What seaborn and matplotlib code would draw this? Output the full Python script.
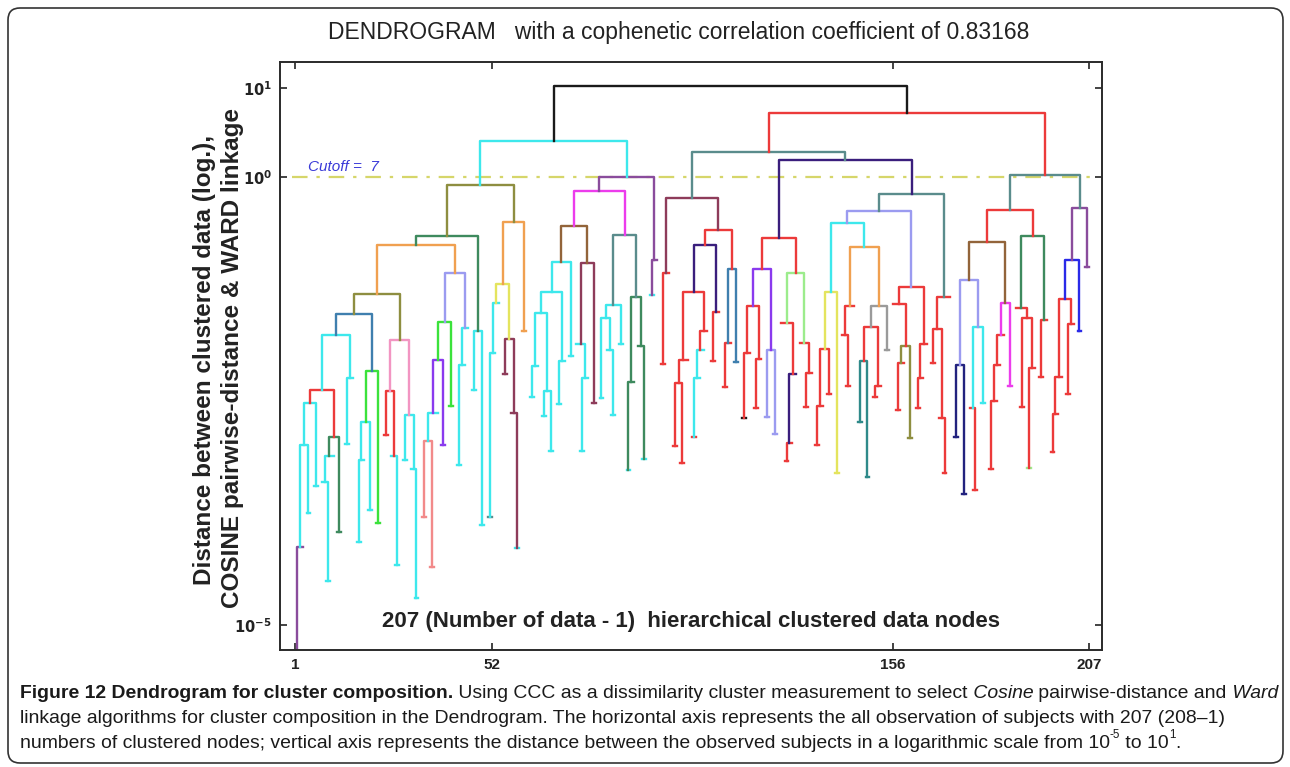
import re
import numpy as np
import pandas as pd
import matplotlib
matplotlib.use("Agg")
import matplotlib.pyplot as plt
import seaborn as sns
from matplotlib.patches import FancyBboxPatch
from matplotlib.transforms import IdentityTransform
from matplotlib.ticker import NullLocator
from matplotlib import font_manager

# ---------------------------------------------------------------------------
# Cluster tree: "(left,right)K:h" is a link of colour key K at log10 height h,
# "x" is a single observation (height 0, not drawn on the log axis).
# ---------------------------------------------------------------------------
c3 = "(((x,x)v:-5.80,x)v:-4.13,(x,x)c:-3.75)c:-2.99"
c2 = f"({c3},(x,x)c:-3.44)c:-2.52"
dg2 = "(((x,(x,x)c:-4.51)c:-3.40,x)c:-3.11,(x,x)G:-3.96)G:-2.90"
r1 = f"({c2},{dg2})r:-2.37"
c1 = f"({r1},((x,x)c:-2.98,x)c:-2.24)c:-1.76"
bg1 = "((((x,x)c:-4.07,x)c:-3.15,(x,x)c:-3.71)c:-2.73,(x,x)g:-3.86)g:-2.16"
sb1 = f"({c1},{bg1})b:-1.53"
pk1 = ("(((x,x)r:-2.88,(x,(x,x)c:-4.33)c:-3.11)r:-2.39,"
       "((x,x)c:-3.16,(x,(x,x)c:-4.70)c:-3.26)c:-2.65)p:-1.82")
ol1 = f"({sb1},{pk1})O:-1.30"
sal = "((x,x)s:-3.79,(x,x)s:-4.35)s:-2.94"
pu1 = f"(({sal},x)c:-2.63,(x,x)P:-2.99)P:-2.04"
bg2 = f"({pu1},(x,x)g:-2.55)g:-1.62"
lv1 = f"({bg2},(((x,x)c:-3.21,x)c:-2.09,x)c:-1.68)l:-1.07"
o1 = f"({ol1},{lv1})o:-0.75"
dg1 = f"({o1},((x,x)c:-2.37,(x,x)c:-3.88)c:-1.72)G:-0.66"
yl1 = ("((((x,x)t:-3.79,x)c:-1.96,x)c:-1.40,"
       "((x,x)h:-2.20,(x,(x,x)c:-4.14)h:-2.63)h:-1.80)y:-1.19")
o2 = f"({yl1},(x,x)o:-1.71)o:-0.50"
ol0 = f"({dg1},{o2})O:-0.09"

c6 = "(((x,x)c:-2.45,x)c:-2.11,((x,x)c:-2.66,(x,x)c:-3.06)c:-2.39)c:-1.51"
c4 = f"(({c6},((x,x)c:-2.53,x)c:-2.05)c:-1.28,(x,x)c:-2.00)c:-0.94"
ma = "((x,((x,x)c:-3.05,x)c:-2.24)c:-1.86,(x,x)h:-2.52)h:-0.96"
br = f"({c4},{ma})n:-0.54"
c7 = "(((x,x)c:-2.46,(x,(x,x)c:-2.65)c:-1.93)c:-1.57,(x,x)c:-1.86)c:-1.43"
dg3 = "(((x,x)c:-3.27,x)G:-2.29,(x,(x,x)c:-3.14)G:-1.88)G:-1.34"
tl = f"({c7},{dg3})t:-0.64"
pt = f"(({br},{tl})m:-0.15,((x,x)c:-1.31,x)v:-0.92)v:0.00"
cy0 = f"({ol0},{pt})c:0.41"

ml = "((x,x)r:-2.08,x)r:-1.07"
n61 = "(((x,x)r:-3.00,(x,x)r:-3.19)r:-2.30,x)r:-2.04"
n63 = "((((x,x)r:-2.90,x)c:-2.24,x)c:-1.93,x)r:-1.71"
rd2 = f"({n61},{n63})r:-1.28"
in1 = f"({rd2},((x,x)r:-2.05,x)r:-1.50)d:-0.76"
sb2 = "(((x,x)r:-2.34,x)r:-1.85,(x,x)b:-2.06)b:-1.02"
rd1 = f"({in1},{sb2})r:-0.59"
m1 = f"({ml},{rd1})h:-0.23"

rd4 = "(((x,x)k:-2.69,x)r:-1.96,((x,x)r:-2.58,x)r:-2.03)r:-1.44"
pu2 = f"({rd4},((x,x)l:-2.68,(x,x)l:-2.86)l:-1.93)P:-1.02"
lg1 = ("((x,(((x,x)r:-3.17,x)r:-2.96,x)d:-2.20)r:-1.63,"
       "(x,((x,x)r:-2.56,x)r:-2.18)r:-1.85)L:-1.07")
rd3 = f"({pu2},{lg1})r:-0.68"
yl2 = "((((x,x)r:-2.99,x)r:-2.55,(x,x)r:-2.42)r:-1.92,(x,x)y:-3.30)y:-1.28"
gr = ("((((x,x)T:-2.73,(x,x)T:-3.35)T:-2.05,((x,x)r:-2.45,x)r:-2.33)r:-1.67,"
      "(x,x)e:-1.93)e:-1.44")
or3 = f"(((x,(x,x)r:-2.33)r:-1.76,x)r:-1.44,{gr})o:-0.78"
c9 = f"({yl2},{or3})c:-0.51"
ol2 = "(((x,x)r:-2.60,x)r:-2.07,(x,x)O:-2.91)O:-1.88"
rd5 = f"((x,{ol2})r:-1.41,(((x,x)r:-2.58,x)r:-2.24,x)r:-1.86)r:-1.22"
l1 = f"({c9},{rd5})l:-0.38"
rs1 = "(((x,x)r:-2.07,(x,(x,x)r:-3.30)r:-2.69)r:-1.69,x)r:-1.34"
t2 = f"({l1},{rs1})t:-0.19"
d1 = f"({rd3},{t2})d:0.19"
t1 = f"({m1},{d1})t:0.28"

lv2 = ("(((x,x)N:-2.90,(x,x)N:-3.54)N:-2.10,"
       "((x,(x,x)r:-3.49)r:-2.58,(x,x)c:-2.52)c:-1.67)l:-1.15")
mg2 = "(((((x,x)r:-3.26,x)r:-2.50,x)r:-2.09,x)r:-1.76,(x,x)m:-2.33)m:-1.40"
bn = f"({lv2},{mg2})n:-0.72"
dg4 = ("((x,((x,x)r:-2.56,((x,x)L:-3.24,x)r:-2.13)r:-1.57)r:-1.46,"
       "((x,x)r:-2.23,x)r:-1.59)G:-0.66")
rd8 = f"({bn},{dg4})r:-0.36"
rd9 = "((((x,x)r:-3.07,x)r:-2.64,x)r:-2.23,((x,x)r:-2.42,x)r:-1.64)r:-1.36"
pu3 = f"(({rd9},(x,x)B:-1.72)B:-0.92,(x,x)v:-1.00)v:-0.34"
t3 = f"({rd8},{pu3})t:0.03"
red = f"({t1},{t3})r:0.72"
tree = f"({cy0},{red})k:1.02"

x_ticks = [1, 52, 156, 207]
y_ticks = [1e-5, 1e0, 1e1]
y_tick_labels = [r"$\mathbf{10}^{\mathbf{-5}}$", r"$\mathbf{10}^{\mathbf{0}}$",
                 r"$\mathbf{10}^{\mathbf{1}}$"]
cutoff_level = 1.0

PALETTE = {
    "c": "#3de8ec", "r": "#ec3a3a", "k": "#1a1a1a", "o": "#f0a050",
    "O": "#8e8e40", "G": "#3e8a5e", "g": "#3be23b", "b": "#3f7fae",
    "p": "#f295c2", "P": "#8a3aee", "l": "#9b9bf0", "m": "#ec3cec",
    "n": "#92643a", "t": "#5a8c8c", "T": "#2f8a8a", "v": "#8a4c9c",
    "d": "#3a1e7c", "y": "#e4e45e", "h": "#8e3c5a", "e": "#9a9a9a",
    "L": "#9cec8c", "B": "#2a2ae8", "N": "#22227e", "s": "#f28a8a",
}


def parse_tree(text):
    num = re.compile(r"-?\d+(?:\.\d+)?")
    pos = 0

    def node():
        nonlocal pos
        if text[pos] == "x":
            pos += 1
            return None
        pos += 1
        left = node()
        pos += 1
        right = node()
        pos += 1
        key = text[pos]
        pos += 2
        m = num.match(text, pos)
        pos = m.end()
        return left, right, key, float(m.group())

    return node()


rows, node_colors = [], {}
leaf_no = [0]


def place(t):
    if t is None:
        leaf_no[0] += 1
        return leaf_no[0], None
    left, right, key, logh = t
    xl, hl = place(left)
    xr, hr = place(right)
    h = 10.0 ** logh
    nid = f"n{len(node_colors):03d}"
    node_colors[nid] = PALETTE[key]
    pts = ([(xl, hl)] if hl is not None else []) + [(xl, h), (xr, h)] \
        + ([(xr, hr)] if hr is not None else [])
    for i, (px, py) in enumerate(pts):
        rows.append((nid, i, px, py))
    return (xl + xr) / 2.0, h


place(parse_tree(tree))
links = pd.DataFrame(rows, columns=["node", "step", "leaf", "distance"])

W, H = 1290, 767
fig = plt.figure(figsize=(W / 100, H / 100), dpi=100)
fig.patch.set_facecolor("white")
ax = fig.add_axes([280 / W, 1 - 650 / H, 822 / W, 588 / H])

sns.lineplot(data=links, x="leaf", y="distance", hue="node", palette=node_colors,
             estimator=None, sort=False, legend=False, linewidth=1.7, ax=ax)
ax.set_yscale("log")
ax.set_xlim(-2.89, 210.34)
ax.set_ylim(10 ** -5.276, 10 ** 1.287)

ax.plot([0.2, 208.2], [cutoff_level, cutoff_level], color="#d6d66a", lw=1.6,
        dashes=(7, 4, 1.5, 4), zorder=1)

ax.set_xlabel("")
ax.set_ylabel("")
ax.set_xticks(x_ticks)
ax.set_xticklabels([str(v) for v in x_ticks], fontweight="bold",
                   family="Liberation Sans", fontsize=11)
ax.set_yticks(y_ticks)
ax.set_yticklabels(y_tick_labels, fontsize=10.5)
ax.yaxis.set_minor_locator(NullLocator())
ax.xaxis.set_minor_locator(NullLocator())
ax.tick_params(direction="in", top=True, right=True, length=5, width=1.2,
               colors="#222222", pad=6)
for sp in ax.spines.values():
    sp.set_color("#2a2a2a")
    sp.set_linewidth(1.4)
ax.set_facecolor("white")

ax.text((308 - 280) / 822, (650 - 167) / 588, "Cutoff =  7", transform=ax.transAxes,
        ha="left", va="center", fontsize=11, style="italic", color="#3a3ad8",
        family="Liberation Sans")
ax.text((691 - 280) / 822, (650 - 621) / 588,
        "207 (Number of data - 1)  hierarchical clustered data nodes",
        transform=ax.transAxes, ha="center", va="center", fontsize=16,
        fontweight="bold", family="Liberation Sans", color="#222222")

fig.text(679 / W, 1 - 33 / H,
         "DENDROGRAM   with a cophenetic correlation coefficient of 0.83168",
         ha="center", va="center", fontsize=16.5, family="Liberation Sans", color="#222222")
fig.text(205 / W, 1 - 360 / H, "Distance between clustered data (log.),", rotation=90,
         ha="center", va="center", fontsize=17.5, fontweight="bold",
         family="Liberation Sans", color="#222222")
fig.text(233 / W, 1 - 358 / H, "COSINE pairwise-distance & WARD linkage", rotation=90,
         ha="center", va="center", fontsize=17.5, fontweight="bold",
         family="Liberation Sans", color="#222222")

frame = FancyBboxPatch((8, 4), 1275, 755, boxstyle="round,pad=0,rounding_size=12",
                       transform=IdentityTransform(), fill=False, edgecolor="#333333",
                       linewidth=1.2)
fig.add_artist(frame)

# Caption set in runs (bold / regular / italic / superscript)
try:
    font_manager.findfont("Liberation Sans Narrow", fallback_to_default=False)
    cap_family = "Liberation Sans Narrow"
except Exception:
    cap_family = "Liberation Sans"

caption = [
    [("Figure 12 Dendrogram for cluster composition.", "b"),
     (" Using CCC as a dissimilarity cluster measurement to select", "r"),
     (" Cosine", "i"), (" pairwise-distance and", "r"), (" Ward", "i")],
    [("linkage algorithms for cluster composition in the Dendrogram. The horizontal axis "
      "represents the all observation of subjects with 207 (208\u20131)", "r")],
    [("numbers of clustered nodes; vertical axis represents the distance between the observed "
      "subjects in a logarithmic scale from 10", "r"), ("-5", "sup"), (" to 10", "r"),
     ("1", "sup"), (".", "r")],
]
baselines = [698, 723, 748]
renderer = fig.canvas.get_renderer()


def draw_line(runs, y_px, size, keep=True):
    x = 20.0
    made = []
    for txt, style in runs:
        kw = dict(fontsize=size, family=cap_family, color="#1a1a1a")
        dy = 0.0
        if style == "b":
            kw["fontweight"] = "bold"
        elif style == "i":
            kw["fontstyle"] = "italic"
        elif style == "sup":
            kw["fontsize"] = size * 0.6
            dy = size * 0.5 * 100 / 72
        t = fig.text(x / W, 1 - (y_px - dy) / H, txt, ha="left", va="baseline", **kw)
        x += t.get_window_extent(renderer).width
        made.append(t)
    if not keep:
        for t in made:
            t.remove()
    return x - 20.0


trial = 13.0
width = draw_line(caption[0], baselines[0], trial, keep=False)
cap_size = trial * 1250.0 / width
for runs, yb in zip(caption, baselines):
    draw_line(runs, yb, cap_size)

fig.savefig("out.png", dpi=100, facecolor="white")
